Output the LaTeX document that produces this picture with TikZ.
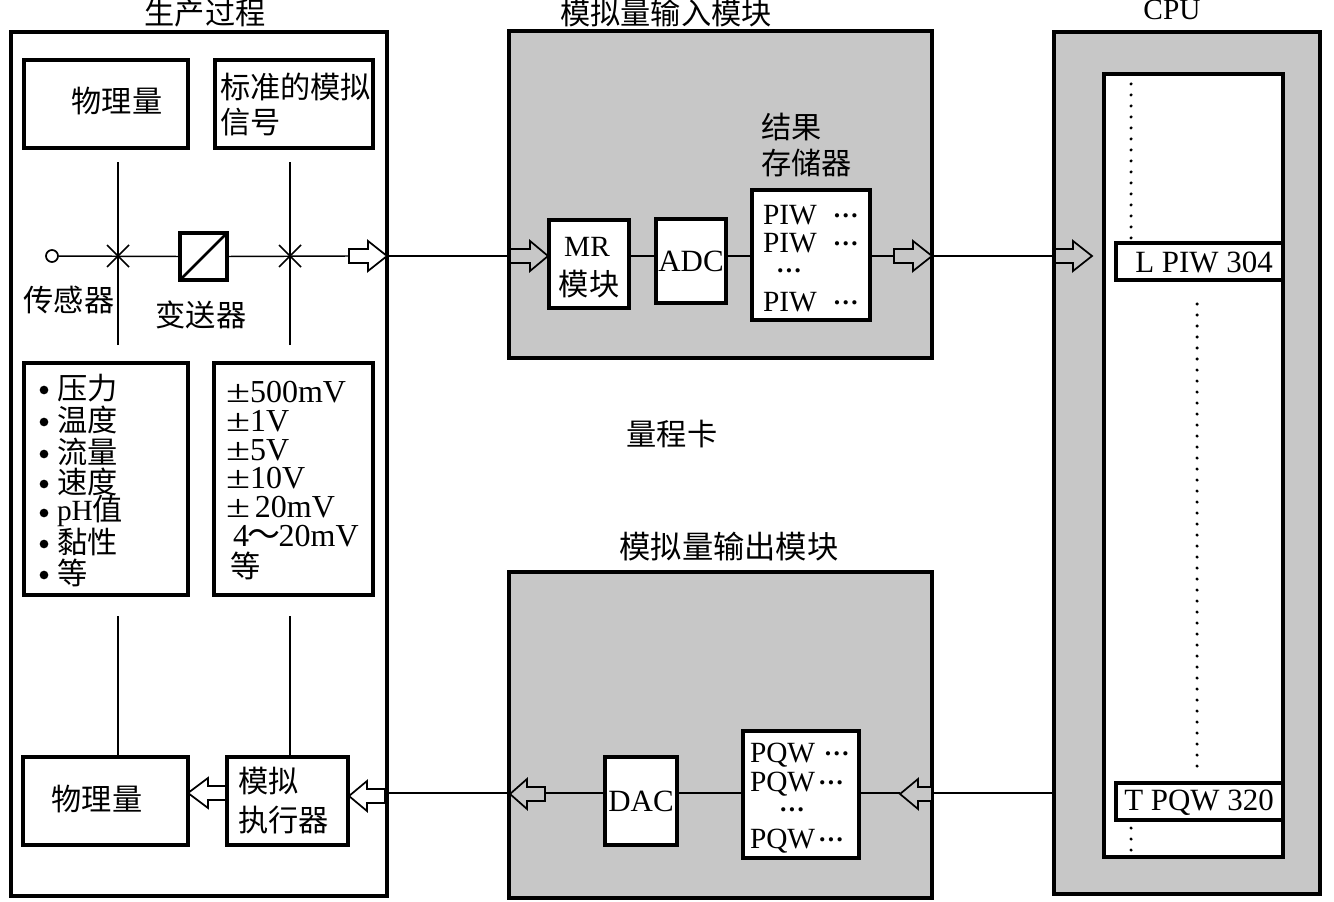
\documentclass[tikz,border=0pt]{standalone}
\usepackage{fontspec}
\setmainfont{Liberation Serif}
\newfontfamily\cjk[Scale=1.03]{Noto Sans CJK SC}
\newcommand{\bx}[6]{%
  \pgfmathsetmacro{\cxx}{(#2+#4)/2}\pgfmathsetmacro{\cyy}{(#3+#5)/2}%
  \pgfmathsetmacro{\wdd}{(#4-#2)*0.75}\pgfmathsetmacro{\htt}{(#5-#3)*0.75}%
  \node[#6,minimum width=\wdd pt,minimum height=\htt pt] (#1) at (\cxx,\cyy) {};}
\newcommand{\harr}[5]{%
  \draw[arrowline,fill=#5] (#3,#2-7)--(#4,#2-7)--(#4,#2-15)--(#1,#2)--(#4,#2+15)--(#4,#2+7)--(#3,#2+7)--cycle;}
\newcommand{\xmark}[2]{\draw[thinline] (#1-11,#2-11)--(#1+11,#2+11) (#1-11,#2+11)--(#1+11,#2-11);}
\newcommand{\cdts}{\smash{\raisebox{.22em}{\scalebox{.88}{\textbf{…}}}}}
\newcommand{\pmw}{\scalebox{1.37}[1]{±}}
\definecolor{modgray}{gray}{0.78}
\tikzset{
  x=0.75pt,y=-0.75pt,
  whitebox/.style={draw=black,fill=white,line width=3pt,inner sep=0pt,outer sep=0pt},
  graybox/.style={whitebox,fill=modgray},
  thinline/.style={draw=black,line width=1.1pt},
  arrowline/.style={draw=black,line width=1.3pt},
  txt/.style={inner sep=0pt,outer sep=0pt,font=\fontsize{22pt}{26pt}\selectfont,anchor=west},
  ctxt/.style={txt,anchor=center},
  bigtxt/.style={txt,font=\fontsize{24pt}{28pt}\selectfont},
  midtxt/.style={ctxt,font=\fontsize{23.2pt}{28pt}\selectfont},
  bul/.style={circle,fill=black,inner sep=0pt,minimum size=6.5pt},
  dotrow/.style={line width=2.6pt,line cap=round,dash pattern=on 0pt off 8.25pt},
}
\begin{document}
\begin{tikzpicture}
\useasboundingbox (0,0) rectangle (1334,902);
\fill[white] (0,0) rectangle (1334,902);
% big frames
\bx{proc}{11}{32}{387}{896}{whitebox}
\bx{inmod}{509}{31}{932}{358}{graybox}
\bx{outmod}{509}{572}{932}{898}{graybox}
\bx{cpu}{1054}{32}{1320}{894}{graybox}
\bx{mem}{1104}{74}{1283}{857}{whitebox}
% titles
\node[ctxt] (t1) at (205,13) {\cjk 生产过程};
\node[ctxt] (t2) at (666,13) {\cjk 模拟量输入模块};
\node[ctxt] (t3) at (1172,10) {CPU};
\node[ctxt] (t4) at (672,434) {\cjk 量程卡};
\node[ctxt,font=\fontsize{22.8pt}{26pt}\selectfont] (t5) at (729,547) {\cjk 模拟量输出模块};
% left column boxes
\bx{phys}{24}{60}{188}{148}{whitebox}
\bx{std}{215}{60}{373}{148}{whitebox}
\bx{plist}{24}{363}{188}{595}{whitebox}
\bx{vlist}{214}{363}{373}{595}{whitebox}
\bx{physb}{23}{757}{188}{845}{whitebox}
\bx{act}{227}{757}{348}{845}{whitebox}
\node[ctxt] (tphys) at (117,101) {\cjk 物理量};
\node[txt] (tstd1) at (220,87) {\cjk 标准的模拟};
\node[txt] (tstd2) at (220,122) {\cjk 信号};
\node[ctxt] (tphysb) at (97,799) {\cjk 物理量};
\node[txt] (tact1) at (238,781) {\cjk 模拟};
\node[txt] (tact2) at (238,820) {\cjk 执行器};
% sensor line
\node[circle,draw=black,line width=1.3pt,fill=white,minimum size=9pt,inner sep=0pt] (sens) at (52,256) {};
\bx{xf}{180}{233}{227}{280}{whitebox}
\coordinate (a1tail) at (349,256);
\coordinate (a1tip) at (387,256);
\draw[thinline] (sens) -- (xf.west);
\draw[thinline] (xf.east) -- (a1tail);
\draw[line width=2pt] (xf.south west) -- (xf.north east);
\xmark{118}{256}
\xmark{290}{256}
\node[ctxt] (ts) at (69,300) {\cjk 传感器};
\node[ctxt] (tx) at (201,315) {\cjk 变送器};
% verticals
\coordinate (v1t) at (118,162); \coordinate (v1a) at (118,345); \coordinate (v1b) at (118,616);
\coordinate (v2t) at (290,162); \coordinate (v2a) at (290,345); \coordinate (v2b) at (290,616);
\draw[thinline] (v1a) -- (v1t);
\draw[thinline] (v2a) -- (v2t);
\draw[thinline] (v1b) -- (v1b |- physb.north);
\draw[thinline] (v2b) -- (v2b |- act.north);
% physical list
\foreach \yy/\tt [count=\i] in {388/压力,420/温度,452/流量,482/速度,542/黏性,573/等}{
  \node[bul] (b\i) at (44,\yy+2) {};
  \node[txt] (pl\i) at (57,\yy) {\cjk\tt};
}
\node[bul] (b7) at (44,513) {};
\node[txt] (pl7) at (57,511) {pH{\cjk 值}};
% voltage list
\node[bigtxt] (v1) at (226,392) {\pmw 500mV};
\node[bigtxt] (v2) at (226,421) {\pmw 1V};
\node[bigtxt] (v3) at (226,450) {\pmw 5V};
\node[bigtxt] (v4) at (226,478) {\pmw 10V};
\node[bigtxt] (v5) at (226,507) {\pmw\hspace{.15em}20mV};
\node[bigtxt] (v6) at (233,536) {4{\cjk\hspace{-.05em}～\hspace{-.05em}}20mV};
\node[txt] (v7) at (230,566) {\cjk 等};
% input module
\bx{mr}{549}{220}{629}{308}{whitebox}
\bx{adc}{656}{219}{726}{303}{whitebox}
\bx{piw}{752}{190}{870}{320}{whitebox}
\node[ctxt] (tmr1) at (587,247) {MR};
\node[ctxt] (tmr2) at (589,284) {\cjk 模块};
\node[midtxt] (tadc) at (691,261) {ADC};
\node[txt] (tres1) at (761,127) {\cjk 结果};
\node[txt] (tres2) at (761,163) {\cjk 存储器};
\node[txt] (p1) at (763,215) {PIW\hspace{.55em}\cdts};
\node[txt] (p2) at (763,243) {PIW\hspace{.55em}\cdts};
\node[ctxt] (p3) at (789,279) {\cdts};
\node[txt] (p4) at (763,302) {PIW\hspace{.55em}\cdts};
\coordinate (a2tail) at (510,256);
\coordinate (a3tail) at (894,256);
\coordinate (a3tip) at (932,256);
\coordinate (a4tail) at (1055,256);
\draw[thinline] (a1tip) -- (a2tail);
\draw[thinline] (mr.east |- a2tail) -- (adc.west |- a2tail);
\draw[thinline] (adc.east |- a2tail) -- (piw.west |- a2tail);
\draw[thinline] (piw.east |- a2tail) -- (a3tail);
\draw[thinline] (a3tip) -- (a4tail);
% output module
\bx{dac}{605}{757}{677}{845}{whitebox}
\bx{pqw}{743}{731}{859}{858}{whitebox}
\node[midtxt] (tdac) at (641,801) {DAC};
\node[txt] (q1) at (750,755) {PQW\hspace{.3em}\cdts};
\node[txt] (q2) at (750,784) {PQW\hspace{.1em}\cdts};
\node[ctxt] (q3) at (792,818) {\cdts};
\node[txt] (q4) at (750,841) {PQW\hspace{.1em}\cdts};
\coordinate (a5tail) at (932,793);
\coordinate (a5tip) at (900,793);
\coordinate (a6tip) at (510,793);
\coordinate (a6tail) at (545,793);
\draw[thinline] (cpu.west |- a5tail) -- (a5tail);
\draw[thinline] (pqw.east |- a5tip) -- (a5tip);
\draw[thinline] (pqw.west |- a6tail) -- (dac.east |- a6tail);
\draw[thinline] (dac.west |- a6tail) -- (a6tail);
\draw[thinline] (a6tip) -- (proc.east |- a6tip);
% memory
\bx{lpiw}{1116}{243}{1283}{280}{whitebox}
\bx{tpqw}{1116}{783}{1283}{820}{whitebox}
\node[midtxt] (tl) at (1204,262) {L PIW 304};
\node[midtxt] (tt) at (1199,803) {T PQW 320};
\coordinate (d1a) at (1131,84); \coordinate (d1b) at (1131,240);
\coordinate (d2a) at (1197,304); \coordinate (d2b) at (1197,770);
\coordinate (d3a) at (1131,828); \coordinate (d3b) at (1131,852);
\draw[dotrow] (d1a) -- (d1b);
\draw[dotrow] (d2a) -- (d2b);
\draw[dotrow] (d3a) -- (d3b);
% hollow arrows
\harr{387}{256}{349}{368}{white}
\harr{548}{256}{510}{530}{modgray}
\harr{932}{256}{894}{913}{modgray}
\harr{1092}{256}{1055}{1073}{modgray}
\harr{900}{794}{932}{918}{modgray}
\harr{510}{794}{545}{527}{modgray}
\harr{349}{796}{385}{367}{white}
\harr{188}{793}{226}{208}{white}
\end{tikzpicture}
\end{document}
